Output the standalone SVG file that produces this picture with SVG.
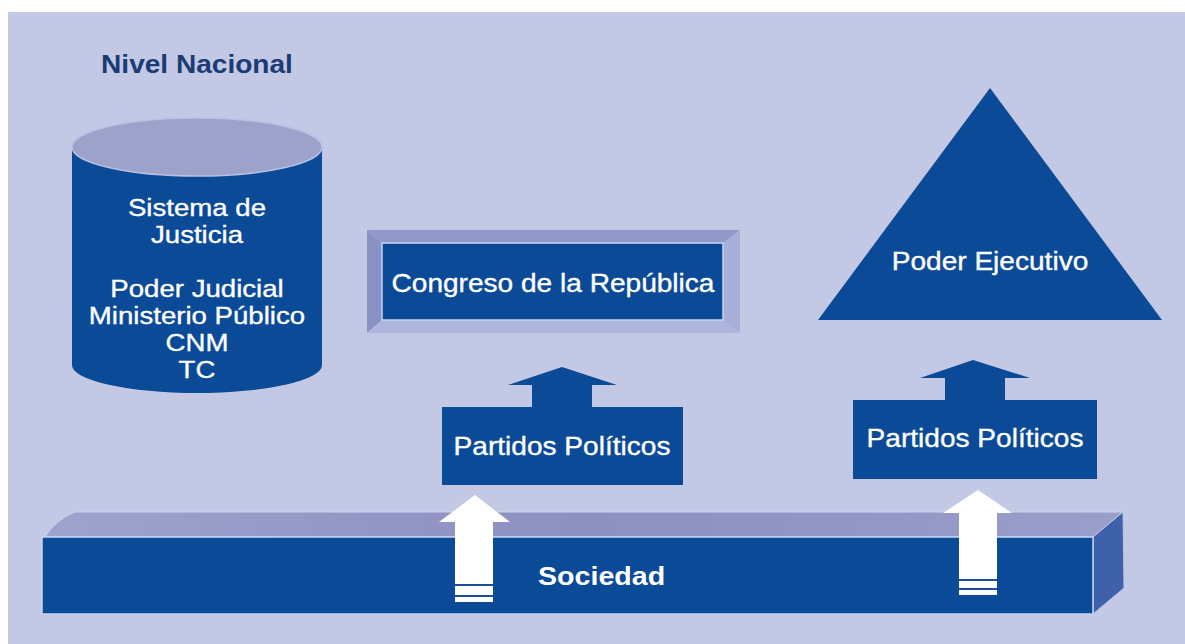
<svg xmlns="http://www.w3.org/2000/svg" width="1185" height="644" viewBox="0 0 1185 644">
<defs>
<style>
.t{font-family:"Liberation Sans",Arial,sans-serif;font-size:26px;fill:#ffffff;stroke:#ffffff;stroke-width:0.35;text-anchor:middle}
.c{font-size:24px}
.b{font-weight:bold;stroke-width:0}
.dk{fill:#0B4A97}
.wa{fill:#FFFFFF}
.stripe{stroke:#1F4E98;stroke-width:2}
</style>
<linearGradient id="topface" x1="0" y1="0" x2="1" y2="0">
<stop offset="0" stop-color="#9EA2CC"/>
<stop offset="0.5" stop-color="#8D90C0"/>
<stop offset="1" stop-color="#9A9ECA"/>
</linearGradient>
</defs>
<rect x="0" y="0" width="1185" height="644" fill="#FFFFFF"/>
<rect x="8" y="12" width="1177" height="632" fill="#C3C9E4"/>

<g id="nivel-nacional">
<text class="t b" transform="translate(197,73) scale(1.08,1)" style="fill:#1B3B75">Nivel Nacional</text>
</g>

<g id="sistema-justicia">
<path class="dk" d="M72,147 L72,365 A125,28 0 0 0 322,365 L322,147 Z"/>
<ellipse cx="197" cy="147" rx="125" ry="29" fill="#9DA2CB" stroke="#B8C0E4" stroke-width="1.5"/>
<g transform="translate(197,0) scale(1.15,1)">
<text class="t c" x="0" y="216">Sistema de</text>
<text class="t c" x="0" y="243">Justicia</text>
<text class="t c" x="0" y="297">Poder Judicial</text>
<text class="t c" x="0" y="324">Ministerio Público</text>
<text class="t c" x="0" y="351">CNM</text>
<text class="t c" x="0" y="378">TC</text>
</g>
</g>

<g id="congreso">
<polygon points="367,230 740,230 723,243 382,243" fill="#9299C8"/>
<polygon points="367,230 382,243 382,320 367,333" fill="#8A91C4"/>
<polygon points="740,230 740,333 723,320 723,243" fill="#A7AED8"/>
<polygon points="367,333 382,320 723,320 740,333" fill="#AFB6DD"/>
<rect x="382" y="243" width="341" height="77" class="dk" stroke="#C9D3F0" stroke-width="1.5"/>
<text class="t" transform="translate(553,292) scale(1.08,1)">Congreso de la República</text>
</g>

<g id="poder-ejecutivo">
<polygon points="990,88 1162,320 818,320" class="dk"/>
<text class="t" transform="translate(990,270) scale(1.08,1)">Poder Ejecutivo</text>
</g>

<g id="sociedad">
<path d="M45,537 Q55,520 75,512 L1123,512 L1093,537 Z" fill="url(#topface)" stroke="#C9D3F0" stroke-width="1"/>
<polygon points="1093,537 1123,512 1124,588 1093,614" fill="#3E61A9" stroke="#B9C7EC" stroke-width="1"/>
<rect x="42" y="537" width="1051" height="77" class="dk" stroke="#C9D3F0" stroke-width="1.5"/>
<text class="t b" transform="translate(538,585) scale(1.1,1)" style="text-anchor:start">Sociedad</text>
</g>

<g id="partidos-1">
<rect x="442" y="407" width="241" height="78" class="dk"/>
<text class="t" transform="translate(562,455) scale(1.08,1)">Partidos Políticos</text>
</g>

<g id="partidos-2">
<rect x="853" y="400" width="244" height="79" class="dk"/>
<text class="t" transform="translate(975,447) scale(1.08,1)">Partidos Políticos</text>
</g>

<g id="connectors">
<polygon class="dk" points="562,367 617,385 592,385 592,408 532,408 532,385 508,385"/>
<polygon class="dk" points="973,360 1030,378 1005,378 1005,401 945,401 945,378 920,378"/>
<polygon class="wa" points="475,495 510,522 493,522 493,602 455,602 455,522 439,522"/>
<line class="stripe" x1="455" y1="585" x2="493" y2="585"/>
<line class="stripe" x1="455" y1="596" x2="493" y2="596"/>
<polygon class="wa" points="978,490 1012,513 997,513 997,595 959,595 959,513 943,513"/>
<line class="stripe" x1="959" y1="580" x2="997" y2="580"/>
<line class="stripe" x1="959" y1="589" x2="997" y2="589"/>
</g>
</svg>
